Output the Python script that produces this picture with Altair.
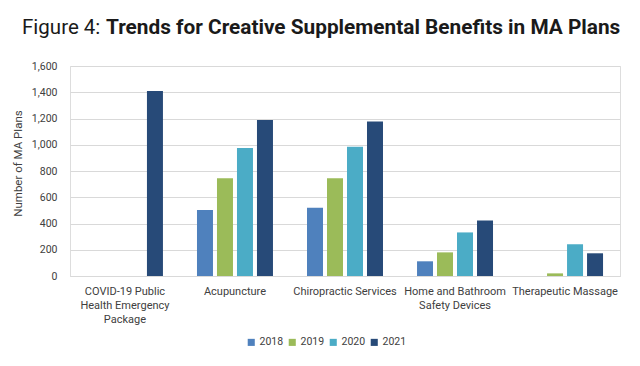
import altair as alt
import pandas as pd

categories = ["COVID-19 Public|Health Emergency|Package", "Acupuncture",
              "Chiropractic Services", "Home and Bathroom|Safety Devices",
              "Therapeutic Massage"]
years = ["2018", "2019", "2020", "2021"]
v2018 = [None, 503, 520, 112, None]
v2019 = [None, 745, 745, 180, 20]
v2020 = [None, 975, 985, 332, 242]
v2021 = [1410, 1188, 1178, 422, 173]
colors = ["#4f81bd", "#9bbb59", "#4bacc6", "#274a78"]

rows = []
for i, c in enumerate(categories):
    for y, vals in zip(years, [v2018, v2019, v2020, v2021]):
        if vals[i] is not None:
            rows.append({"category": c, "year": y, "value": vals[i]})
df = pd.DataFrame(rows)

FONT = "Roboto"

bars = alt.Chart(df).mark_bar().encode(
    x=alt.X("category:N", sort=categories, title=None,
            scale=alt.Scale(paddingInner=0.273, paddingOuter=0.136),
            axis=alt.Axis(labelAngle=0, labelExpr="split(datum.label, '|')",
                          labelFont=FONT, labelFontSize=11, labelColor="#404040",
                          labelLineHeight=14, labelPadding=9, ticks=False,
                          domainColor="#d9d9d9", labelBaseline="top")),
    xOffset=alt.XOffset("year:N", sort=years,
                        scale=alt.Scale(paddingInner=0.2, paddingOuter=0.1)),
    y=alt.Y("value:Q", title="Number of MA Plans",
            scale=alt.Scale(domain=[0, 1600], nice=False),
            axis=alt.Axis(values=list(range(0, 1601, 200)), format=",d",
                          labelFont=FONT, labelFontSize=10.5, labelColor="#404040",
                          labelPadding=13, ticks=False, domain=False,
                          gridColor="#d9d9d9", gridWidth=1,
                          titleFont=FONT, titleFontSize=11.5, titleFontWeight="normal",
                          titleColor="#404040", titlePadding=8, titleY=97)),
    color=alt.Color("year:N", sort=years,
                    scale=alt.Scale(domain=years, range=colors),
                    legend=alt.Legend(title=None, orient="none", direction="horizontal",
                                      legendX=176, legendY=271,
                                      symbolType="square", symbolSize=50,
                                      symbolStrokeWidth=0,
                                      labelFont=FONT, labelFontSize=10.5,
                                      labelColor="#404040", columnPadding=3,
                                      labelOffset=3)),
)

title1 = alt.Chart(pd.DataFrame({"t": ["Figure 4:"]})).mark_text(
    align="left", baseline="alphabetic", font=FONT, fontSize=20.5,
    fontWeight="normal", color="#1a1a1a"
).encode(x=alt.value(-48), y=alt.value(-32), text="t:N")

title2 = alt.Chart(pd.DataFrame({"t": ["Trends for Creative Supplemental Benefits in MA Plans"]})).mark_text(
    align="left", baseline="alphabetic", font=FONT, fontSize=20.8,
    fontWeight="bold", color="#1a1a1a"
).encode(x=alt.value(36), y=alt.value(-32), text="t:N")

chart = alt.layer(bars, title1, title2).properties(
    width=550, height=210,
    autosize=alt.AutoSizeParams(type="none"),
    padding={"left": 62, "top": 58, "right": 12, "bottom": 82},
).configure_view(stroke=None).configure(background="white")

chart.save("out.html", embed_options={"renderer": "svg", "actions": False})
